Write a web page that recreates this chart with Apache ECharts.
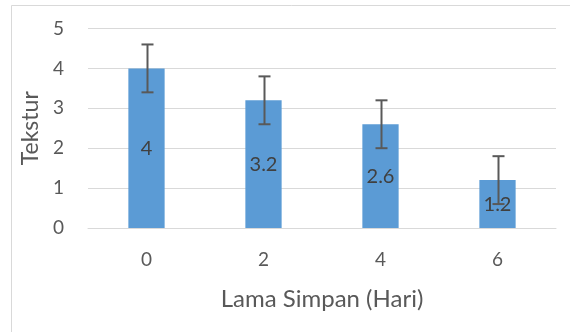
<!DOCTYPE html>
<html>
<head>
<meta charset="utf-8">
<script src="https://cdn.jsdelivr.net/npm/echarts@6/dist/echarts.min.js"></script>
<style>html,body{margin:0;padding:0;background:#fff;}#c{width:570px;height:332px;}</style>
</head>
<body>
<div id="c"></div>
<script>
var categories = ['0', '2', '4', '6'];
var values = [4, 3.2, 2.6, 1.2];
var errors = [0.6, 0.6, 0.6, 0.6];
var yTicks = [0, 1, 2, 3, 4, 5];

var FONT = 'Lato, "Liberation Sans", sans-serif';
var chart = echarts.init(document.getElementById('c'), null, {renderer: 'canvas'});
var errData = categories.map(function (c, i) { return [i, values[i] - errors[i], values[i] + errors[i]]; });

chart.setOption({
  animation: false,
  backgroundColor: '#fff',
  graphic: [{
    type: 'rect', shape: {x: 11.5, y: 5.5, width: 600, height: 400},
    style: {fill: 'none', stroke: '#d9d9d9', lineWidth: 1}, silent: true
  }],
  grid: {left: 88, right: 14, top: 28.5, bottom: 104, containLabel: false},
  xAxis: {
    type: 'category', data: categories,
    axisLine: {lineStyle: {color: '#d9d9d9', width: 1}},
    axisTick: {show: false},
    axisLabel: {color: '#595959', fontSize: 19, fontFamily: FONT, margin: 22},
    name: 'Lama Simpan (Hari)', nameLocation: 'middle', nameGap: 59,
    nameTextStyle: {color: '#595959', fontSize: 24, fontFamily: FONT}
  },
  yAxis: {
    type: 'value', min: 0, max: 5, interval: 1,
    axisLine: {show: false}, axisTick: {show: false},
    splitLine: {lineStyle: {color: '#d9d9d9', width: 1}},
    axisLabel: {color: '#595959', fontSize: 19, fontFamily: FONT, margin: 24,
      formatter: function (v) { return yTicks.indexOf(v) >= 0 ? String(v) : ''; }},
    name: 'Tekstur', nameLocation: 'middle', nameGap: 44, nameRotate: 90,
    nameTextStyle: {color: '#595959', fontSize: 23, fontFamily: FONT}
  },
  series: [{
    type: 'bar', data: values, barWidth: '31%',
    itemStyle: {color: '#5b9bd5'},
    label: {show: true, position: 'inside', color: '#404040', fontSize: 20, fontFamily: FONT}
  }, {
    type: 'custom', data: errData, z: 10,
    renderItem: function (params, api) {
      var x = api.value(0);
      var lo = api.coord([x, api.value(1)]);
      var hi = api.coord([x, api.value(2)]);
      var cx = Math.round(lo[0]) + 0.5;
      var hw = 6;
      var st = {stroke: '#595959', lineWidth: 2, fill: 'none'};
      return {type: 'group', children: [
        {type: 'line', shape: {x1: cx, y1: hi[1], x2: cx, y2: lo[1]}, style: st},
        {type: 'line', shape: {x1: cx - hw, y1: hi[1], x2: cx + hw, y2: hi[1]}, style: st},
        {type: 'line', shape: {x1: cx - hw, y1: lo[1], x2: cx + hw, y2: lo[1]}, style: st}
      ]};
    }
  }]
});
</script>
</body>
</html>
